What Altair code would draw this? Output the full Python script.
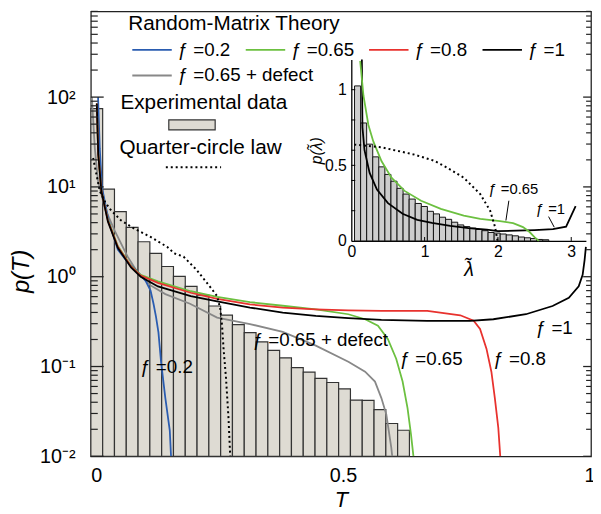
import altair as alt
import pandas as pd

FONT = "Liberation Sans"
SERIES = ["ƒ =0.2", "ƒ =0.65", "ƒ =0.8", "ƒ =1"]
COLORS = ["#2a5cb0", "#6cc040", "#e8322e", "#000000"]
DEFECT = ["ƒ =0.65 + defect"]
DEFECT_COLOR = ["#888888"]

# ---------------- main panel: histogram of experimental T ----------------
T_BIN_START = -0.011
T_BIN_WIDTH = 0.02392
P_HIST = [74.3, 9.44, 5.31, 3.54, 2.45, 1.82, 1.30, 1.01, 0.78, 0.624, 0.472, 0.373,
          0.293, 0.238, 0.188, 0.151, 0.125, 0.097, 0.0866, 0.0738, 0.0664, 0.0563,
          0.0423, 0.0420, 0.0331, 0.0232, 0.0195]

# ---------------- main panel: RMT curves ----------------
T_F02 = [0.0036, 0.007, 0.0116, 0.025, 0.0436, 0.0636, 0.085, 0.100, 0.110, 0.116, 0.121, 0.126, 0.1315, 0.140, 0.149, 0.1515]
P_F02 = [100, 27, 9.8, 4.23, 2.0, 1.45, 1.12, 0.9, 0.7, 0.5, 0.36, 0.24, 0.11, 0.0445, 0.0193, 0.01]

T_F065 = [0.001, 0.004, 0.0104, 0.0236, 0.0436, 0.0704, 0.09, 0.125, 0.1915, 0.245, 0.3115, 0.378, 0.445, 0.511, 0.545, 0.571, 0.591, 0.608, 0.621, 0.631, 0.638, 0.643]
P_F065 = [85, 23, 9.1, 4.3, 2.2, 1.32, 1.05, 0.887, 0.689, 0.596, 0.522, 0.475, 0.434, 0.382, 0.336, 0.285, 0.203, 0.122, 0.068, 0.0345, 0.0176, 0.01]

T_F08 = [0.001, 0.004, 0.0104, 0.0236, 0.0436, 0.0704, 0.09, 0.125, 0.1915, 0.245, 0.3115, 0.378, 0.445, 0.511, 0.578, 0.671, 0.738, 0.765, 0.778, 0.791, 0.801, 0.808, 0.815, 0.819]
P_F08 = [85, 23, 9.0, 4.2, 2.15, 1.30, 1.03, 0.853, 0.663, 0.566, 0.492, 0.453, 0.434, 0.423, 0.416, 0.416, 0.372, 0.323, 0.262, 0.158, 0.0875, 0.0445, 0.0208, 0.01]

T_F1 = [0.001, 0.004, 0.0104, 0.0236, 0.0436, 0.0704, 0.09, 0.125, 0.1915, 0.245, 0.3115, 0.378, 0.445, 0.511, 0.578, 0.671, 0.758, 0.805, 0.871, 0.925, 0.958, 0.978, 0.986, 0.990, 0.9926]
P_F1 = [85, 23, 8.9, 4.1, 2.1, 1.27, 1.0, 0.78, 0.608, 0.531, 0.453, 0.399, 0.366, 0.345, 0.331, 0.323, 0.323, 0.336, 0.382, 0.472, 0.583, 0.782, 1.05, 1.54, 2.15]

T_DEF = [-0.009, -0.003, 0.0036, 0.017, 0.037, 0.0636, 0.0836, 0.110, 0.14, 0.19, 0.245, 0.3115, 0.378, 0.445, 0.511, 0.545, 0.565, 0.578, 0.588, 0.598, 0.600]
P_DEF = [100, 27, 11.6, 5.9, 3.28, 1.67, 1.12, 0.8, 0.64, 0.5, 0.35, 0.297, 0.243, 0.171, 0.113, 0.0875, 0.068, 0.0445, 0.0292, 0.0126, 0.01]

T_QC = [-0.0064, 0.007, 0.0184, 0.0304, 0.0504, 0.077, 0.110, 0.1435, 0.158, 0.177, 0.2035, 0.230, 0.245, 0.2515, 0.255, 0.258, 0.263, 0.268, 0.2715]
P_QC = [21, 9.0, 6.7, 5.44, 4.23, 3.43, 2.77, 2.15, 1.82, 1.67, 1.19, 0.78, 0.608, 0.434, 0.285, 0.158, 0.074, 0.0268, 0.01]

MAIN_LABELS = ["ƒ =0.2", "ƒ =0.65 + defect", "ƒ =0.65", "ƒ =0.8", "ƒ =1"]
MAIN_LABEL_T = [0.089, 0.317, 0.615, 0.805, 0.891]
MAIN_LABEL_P = [0.0975, 0.198, 0.1225, 0.1225, 0.269]

Y_MAJOR = [0.01, 0.1, 1, 10, 100]
Y_MINOR = [k * 10.0 ** e for e in range(-2, 3) for k in range(2, 10) if k * 10.0 ** e <= 900]

# ---------------- inset: eigenvalue density ----------------
L_BIN_START = 0.044
L_BIN_WIDTH = 0.0828
P_LHIST = [1.025, 0.78, 0.64, 0.556, 0.49, 0.44, 0.395, 0.348, 0.31, 0.277, 0.248, 0.228,
           0.196, 0.179, 0.157, 0.143, 0.124, 0.106, 0.095, 0.085, 0.076, 0.068, 0.056,
           0.052, 0.046, 0.040, 0.034, 0.026, 0.021, 0.016, 0.010, 0.008]

L_IN065 = [0.121, 0.166, 0.233, 0.300, 0.413, 0.548, 0.727, 0.952, 1.221, 1.534, 1.759, 2.028, 2.207, 2.342, 2.432, 2.499, 2.557]
P_IN065 = [1.19, 0.96, 0.767, 0.658, 0.527, 0.418, 0.331, 0.266, 0.212, 0.168, 0.146, 0.131, 0.118, 0.092, 0.059, 0.026, 0.0]

L_IN1 = [0.144, 0.152, 0.18, 0.25, 0.35, 0.5, 0.7, 0.9, 1.1, 1.35, 1.6, 1.85, 2.0, 2.25, 2.5, 2.75, 2.93, 3.06]
P_IN1 = [1.2, 0.75, 0.6, 0.45, 0.34, 0.25, 0.18, 0.14, 0.12, 0.10, 0.085, 0.075, 0.065, 0.068, 0.072, 0.078, 0.095, 0.23]

L_INQC = [0.04, 0.413, 0.861, 1.131, 1.31, 1.534, 1.759, 1.894, 1.961, 1.995]
P_INQC = [0.637, 0.619, 0.571, 0.53, 0.484, 0.418, 0.31, 0.2, 0.092, 0.0]

IN_LABELS = ["ƒ =0.65", "ƒ =1"]
IN_LABEL_L = [1.871, 2.517]
IN_LABEL_P = [0.344, 0.214]
LEAD_L1 = [2.149, 2.691]
LEAD_P1 = [0.266, 0.161]
LEAD_L2 = [2.109, 2.768]
LEAD_P2 = [0.135, 0.091]

IN_Y_TICKS = [0.2, 0.4, 0.5, 0.6, 0.8, 1.0]
IN_X_TICKS = [1, 2, 3]

# ---------------- tables ----------------
hist = pd.DataFrame({"lo": [T_BIN_START + i * T_BIN_WIDTH for i in range(len(P_HIST))],
                     "hi": [T_BIN_START + (i + 1) * T_BIN_WIDTH for i in range(len(P_HIST))],
                     "p": P_HIST, "kind": "exp"})

def curves(items, xname):
    rows = []
    for name, xs, ps in items:
        for i, (x, p) in enumerate(zip(xs, ps)):
            rows.append({"series": name, xname: x, "p": p, "i": i})
    return pd.DataFrame(rows)

main_lines = curves([(SERIES[0], T_F02, P_F02),
                     (SERIES[1], T_F065, P_F065), (SERIES[2], T_F08, P_F08),
                     (SERIES[3], T_F1, P_F1)], "T")
defect_line = curves([(DEFECT[0], T_DEF, P_DEF)], "T")
qc = pd.DataFrame({"T": T_QC, "p": P_QC, "i": range(len(T_QC)), "kind": "qc"})
main_text = pd.DataFrame({"T": MAIN_LABEL_T, "p": MAIN_LABEL_P, "label": MAIN_LABELS})
major = pd.DataFrame({"p": Y_MAJOR})
minor = pd.DataFrame({"p": Y_MINOR})

lhist = pd.DataFrame({"lo": [L_BIN_START + i * L_BIN_WIDTH for i in range(len(P_LHIST))],
                      "hi": [L_BIN_START + (i + 1) * L_BIN_WIDTH for i in range(len(P_LHIST))],
                      "p": P_LHIST})
in_lines = curves([(SERIES[3], L_IN1, P_IN1), (SERIES[1], L_IN065, P_IN065)], "L")
in_qc = pd.DataFrame({"L": L_INQC, "p": P_INQC, "i": range(len(L_INQC)), "kind": "qc"})
in_text = pd.DataFrame({"L": IN_LABEL_L, "p": IN_LABEL_P, "label": IN_LABELS})
leaders = pd.DataFrame({"L": LEAD_L1, "p": LEAD_P1, "L2": LEAD_L2, "p2": LEAD_P2})
in_yt = pd.DataFrame({"p": IN_Y_TICKS})
in_xt = pd.DataFrame({"L": IN_X_TICKS})

# ---------------- scales / axes ----------------
W, H = 507, 451
X_MAIN = alt.Scale(domain=[-0.011, 1.003], nice=False, zero=False)
Y_MAIN = alt.Scale(type="log", domain=[0.01, 900], nice=False)
X_IN = alt.Scale(domain=[0, 3.2], range=[264, 501.8], nice=False, zero=False)
Y_IN = alt.Scale(domain=[0, 1.2], range=[232.7, 48.7], nice=False, zero=False)

X_AXIS = alt.Axis(values=[0, 0.5, 1], format="~g", ticks=False, domain=False, grid=False,
                  labelFontSize=20, labelPadding=10, labelFlush=False, labelColor="black",
                  title="T", titleFontSize=22, titleFontStyle="italic", titleFontWeight="normal",
                  titlePadding=4, titleColor="black")
Y_AXIS = alt.Axis(values=Y_MAJOR, ticks=False, domain=False, grid=False,
                  labelExpr="datum.value >= 99 ? '10²' : datum.value >= 9 ? '10¹' : datum.value >= 0.9 ? '10⁰' : datum.value >= 0.09 ? '10⁻¹' : '10⁻²'",
                  labelFontSize=20, labelPadding=16, labelColor="black",
                  title="p(T)", titleFontSize=24, titleFontStyle="italic", titleFontWeight="normal",
                  titleX=-70, titleY=263, titleAngle=270, titleAlign="center", titleBaseline="middle",
                  titleColor="black")
XI_AXIS = alt.Axis(orient="bottom", offset=-218.3, values=IN_X_TICKS + [0], format="~g", ticks=False,
                   grid=False, labelFontSize=16, labelPadding=3, labelFlush=False, labelColor="black",
                   domainColor="black", domainWidth=1.3,
                   title="λ̃", titleFontSize=20, titleFontStyle="italic",
                   titleFontWeight="normal", titlePadding=0, titleColor="black")
YI_AXIS = alt.Axis(orient="left", offset=-264, values=[0, 0.5, 1], format="~g", ticks=False,
                   grid=False, labelFontSize=16, labelPadding=5, labelColor="black",
                   domainColor="black", domainWidth=1.3,
                   title="p(λ̃)", titleFontSize=16, titleFontStyle="italic", titleFontWeight="normal",
                   titlePadding=0, titleColor="black")

def xm(f):
    return alt.X(f, type="quantitative", scale=X_MAIN, axis=X_AXIS)

def ym(f):
    return alt.Y(f, type="quantitative", scale=Y_MAIN, axis=Y_AXIS)

def xi(f):
    return alt.X(f, type="quantitative", scale=X_IN, axis=XI_AXIS)

def yi(f):
    return alt.Y(f, type="quantitative", scale=Y_IN, axis=YI_AXIS)

TITLE_SIZE = 21
LEGEND_COMMON = dict(orient="none", symbolType="M-0.7,0H3.3", symbolSize=400, symbolStrokeWidth=2,
                     labelOffset=28, labelFontSize=19, labelFont=FONT, labelColor="black",
                     padding=0, labelLimit=300)
COLOR = alt.Color("series:N", scale=alt.Scale(domain=SERIES, range=COLORS),
                  legend=alt.Legend(legendX=38, legendY=2, title="Random-Matrix Theory",
                                    direction="horizontal", columnPadding=11,
                                    titlePadding=5, titleFontSize=TITLE_SIZE,
                                    titleFontWeight="normal", titleFont=FONT,
                                    titleColor="black", titleLimit=400, **LEGEND_COMMON))
STROKE = alt.Stroke("series:N", scale=alt.Scale(domain=DEFECT, range=DEFECT_COLOR),
                    legend=alt.Legend(legendX=38, legendY=54, title=None,
                                      direction="horizontal", **LEGEND_COMMON))
DASH = alt.StrokeDash("kind:N", scale=alt.Scale(domain=["qc"], range=[[2, 3]]),
                      legend=alt.Legend(orient="none", legendX=29, legendY=128, title="Quarter-circle law",
                                        labelExpr="''", symbolType="M5.571,0H13.571", symbolSize=196,
                                        symbolStrokeColor="black", symbolStrokeWidth=2,
                                        titlePadding=1, titleFontSize=TITLE_SIZE, titleFontWeight="normal",
                                        titleFont=FONT, titleColor="black", padding=0, titleLimit=400))
FILL = alt.Fill("kind:N", scale=alt.Scale(domain=["exp"], range=["#dedbd3"]),
                legend=alt.Legend(orient="none", legendX=30, legendY=82, title="Experimental data",
                                  labelExpr="''", symbolType="M3.8,-0.5H8.5V0.5H3.8Z", symbolSize=400,
                                  symbolStrokeColor="#333333", symbolStrokeWidth=1.2,
                                  titlePadding=1, titleFontSize=TITLE_SIZE, titleFontWeight="normal",
                                  titleFont=FONT, titleColor="black", padding=0, titleLimit=400))

# ---------------- main layers ----------------
bars = alt.Chart(hist).mark_bar(stroke="#333333", strokeWidth=1.2).encode(
    x=xm("lo"), x2="hi", y=ym("p"), y2=alt.datum(0.01), fill=FILL)
dline = alt.Chart(defect_line).mark_line(strokeWidth=1.8, clip=True).encode(
    x=xm("T"), y=ym("p"), stroke=STROKE, order="i:Q")
lines = alt.Chart(main_lines).mark_line(strokeWidth=1.8, clip=True).encode(
    x=xm("T"), y=ym("p"), color=COLOR, order="i:Q")
qline = alt.Chart(qc).mark_line(color="black", strokeWidth=2, clip=True).encode(
    x=xm("T"), y=ym("p"), strokeDash=DASH, order="i:Q")
texts = alt.Chart(main_text).mark_text(align="left", baseline="middle", fontSize=19, font=FONT,
                                        color="black").encode(x=xm("T"), y=ym("p"), text="label")
tick_l_major = alt.Chart(major).mark_rule(color="#222222", strokeWidth=1.3).encode(
    y=ym("p"), x=alt.value(0), x2=alt.value(13))
tick_l_minor = alt.Chart(minor).mark_rule(color="#222222", strokeWidth=1.2).encode(
    y=ym("p"), x=alt.value(0), x2=alt.value(7))
tick_r_major = alt.Chart(major).mark_rule(color="#222222", strokeWidth=1.3).encode(
    y=ym("p"), x=alt.value(W - 8), x2=alt.value(W))
tick_r_minor = alt.Chart(minor).mark_rule(color="#222222", strokeWidth=1.2).encode(
    y=ym("p"), x=alt.value(W - 5), x2=alt.value(W))

main = alt.layer(bars, dline, lines, qline, texts, tick_l_major, tick_l_minor, tick_r_major, tick_r_minor)

# ---------------- inset layers ----------------
ibars = alt.Chart(lhist).mark_bar(fill="#cdcdcd", stroke="#111111", strokeWidth=1).encode(
    x=xi("lo"), x2="hi", y=yi("p"), y2=alt.datum(0))
ilines = alt.Chart(in_lines).mark_line(strokeWidth=1.8).encode(
    x=xi("L"), y=yi("p"), color=COLOR, order="i:Q")
iq = alt.Chart(in_qc).mark_line(color="black", strokeWidth=2).encode(
    x=xi("L"), y=yi("p"), strokeDash=DASH, order="i:Q")
itext = alt.Chart(in_text).mark_text(align="left", baseline="middle", fontSize=15, font=FONT,
                                     color="black").encode(x=xi("L"), y=yi("p"), text="label")
ilead = alt.Chart(leaders).mark_rule(color="black", strokeWidth=1).encode(
    x=xi("L"), y=yi("p"), x2="L2", y2="p2")
iyt = alt.Chart(in_yt).mark_rule(color="black", strokeWidth=1).encode(
    y=yi("p"), x=alt.value(264), x2=alt.value(268))
ixt = alt.Chart(in_xt).mark_rule(color="black", strokeWidth=1).encode(
    x=xi("L"), y=alt.value(232.7), y2=alt.value(228.7))

inset = alt.layer(ibars, ilines, iq, itext, ilead, iyt, ixt)

chart = alt.layer(main, inset).resolve_scale(x="independent", y="independent").properties(
    width=W, height=H,
    autosize=alt.AutoSizeParams(type="none"),
    padding={"left": 84, "top": 0, "right": 2, "bottom": 54},
).configure(font=FONT).configure_view(stroke="#222222", strokeWidth=1.3)

chart.save("out.html", embed_options={"renderer": "svg", "actions": False})
